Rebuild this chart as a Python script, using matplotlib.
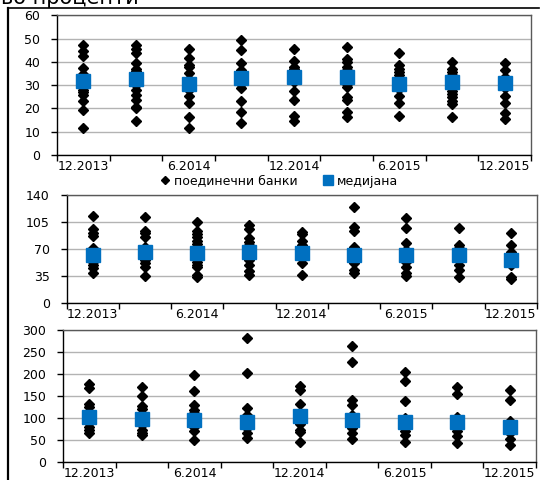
import matplotlib
matplotlib.use('Agg')
import matplotlib.pyplot as plt
from matplotlib.lines import Line2D
import numpy as np

periods = ['12.2013', '3.2014', '6.2014', '9.2014', '12.2014',
           '3.2015', '6.2015', '9.2015', '12.2015']

# top panel
p1_banks = [
    [47.3, 44.5, 42.4, 37.4, 34.9, 32.0, 30.0, 28.0, 27.0, 25.8, 23.4, 19.5, 11.4],
    [47.2, 45.7, 43.8, 39.5, 37.0, 36.0, 34.9, 32.5, 29.9, 28.0, 25.8, 23.7, 20.8, 20.2, 14.7],
    [45.7, 41.8, 38.5, 37.8, 35.2, 32.7, 29.9, 28.0, 25.5, 22.2, 16.4, 11.4],
    [49.3, 45.3, 39.7, 36.3, 34.9, 33.8, 32.0, 30.6, 28.8, 23.4, 18.3, 13.6],
    [45.7, 40.2, 38.0, 37.0, 35.6, 34.2, 32.0, 31.3, 27.4, 23.8, 16.9, 14.7],
    [46.3, 41.1, 40.0, 38.0, 36.3, 33.5, 30.6, 29.1, 25.1, 23.7, 18.6, 16.2],
    [44.0, 38.5, 37.0, 35.6, 34.2, 32.7, 29.9, 28.4, 25.5, 22.2, 16.9],
    [40.0, 37.0, 35.6, 34.2, 32.0, 27.7, 26.2, 24.8, 23.4, 21.9, 16.4],
    [39.5, 36.3, 33.5, 31.3, 28.8, 25.5, 22.2, 17.9, 15.4],
]
p1_median = [31.6, 32.5, 30.3, 32.9, 33.4, 33.7, 30.6, 31.2, 30.9]
p1_ticks = [0, 10, 20, 30, 40, 50, 60]

# middle panel
p2_banks = [
    [113.3, 95.6, 91.3, 87.0, 71.1, 64.6, 58.2, 53.9, 49.5, 45.2, 39.6],
    [112.0, 93.9, 91.3, 85.3, 73.2, 68.9, 62.5, 56.0, 52.6, 46.5, 35.3],
    [105.6, 93.9, 89.6, 85.3, 81.0, 76.7, 71.1, 66.8, 53.9, 49.5, 46.5, 36.6, 33.6],
    [101.2, 95.6, 84.0, 79.7, 75.4, 62.5, 56.0, 49.5, 42.2, 36.6],
    [92.6, 89.6, 81.0, 75.4, 71.1, 60.3, 51.7, 36.6],
    [125.0, 98.2, 93.9, 73.2, 66.8, 58.2, 52.6, 43.1, 39.6],
    [109.9, 96.9, 78.4, 68.9, 62.5, 53.9, 46.5, 38.8, 35.3],
    [96.9, 75.4, 71.1, 66.8, 56.0, 49.5, 43.1, 34.5],
    [90.5, 75.4, 66.8, 62.5, 49.5, 34.5, 31.5],
]
p2_median = [62.5, 66.3, 64.6, 66.3, 65.0, 62.5, 62.5, 62.5, 56.0]
p2_ticks = [0, 35, 70, 105, 140]

# bottom panel
p3_banks = [
    [176.9, 167.8, 131.5, 124.0, 101.3, 88.4, 78.6, 73.3, 65.8],
    [170.0, 148.9, 126.2, 121.0, 99.8, 84.7, 73.3, 65.8, 60.5],
    [198.0, 160.2, 128.5, 118.7, 111.1, 101.3, 92.2, 78.6, 69.5, 48.4],
    [281.2, 201.8, 122.4, 107.3, 101.3, 88.4, 77.1, 65.8, 54.4],
    [171.6, 164.0, 131.5, 107.3, 86.2, 73.3, 68.0, 45.4],
    [263.8, 226.0, 141.3, 130.0, 105.8, 98.3, 86.2, 77.1, 65.8, 50.6],
    [204.1, 182.9, 139.1, 99.8, 86.2, 71.0, 60.5, 45.4],
    [170.0, 154.2, 101.3, 96.0, 84.7, 71.0, 58.2, 41.6],
    [164.0, 141.3, 92.2, 84.7, 77.1, 65.8, 50.6, 37.8],
]
p3_median = [101.0, 98.0, 96.0, 90.0, 103.5, 94.5, 90.0, 90.0, 78.6]
p3_ticks = [0, 50, 100, 150, 200, 250, 300]

BLUE = '#0070c0'
W, H = 543, 480


def draw_panel(ax, banks, medians, yticks):
    for i, vals in enumerate(banks):
        ax.plot([i] * len(vals), vals, 'D', color='black', ms=4.8,
                ls='none', zorder=2)
    ax.plot(range(len(medians)), medians, 's', color=BLUE, ms=9.5,
            ls='none', zorder=3)

    ax.set_xlim(-0.5, len(periods) - 0.5)
    ax.set_ylim(yticks[0], yticks[-1])
    ax.set_yticks(yticks)
    ax.yaxis.grid(True, color='#b3b3b3', lw=1)
    ax.set_axisbelow(True)

    # ticks between categories, labels on every second category
    ax.set_xticks(np.arange(-0.5, len(periods), 1))
    ax.set_xticklabels([])
    ax.set_xticks(range(0, len(periods), 2), minor=True)
    ax.set_xticklabels(periods[::2], minor=True)
    ax.tick_params(axis='x', which='major', direction='out', length=4,
                   width=1)
    ax.tick_params(axis='x', which='minor', length=0, pad=3.5, labelsize=9)
    ax.tick_params(axis='y', direction='out', length=4, width=1, pad=8,
                   labelsize=9)

    for side in ['left', 'bottom']:
        ax.spines[side].set_color('black')
        ax.spines[side].set_linewidth(1)
    for side in ['top', 'right']:
        ax.spines[side].set_color('#595959')
        ax.spines[side].set_linewidth(1)


fig = plt.figure(figsize=(W / 100, H / 100), dpi=100)

ax1 = fig.add_axes([57 / W, 1 - 155 / H, 474 / W, 139.7 / H])
ax2 = fig.add_axes([66.5 / W, 1 - 303.3 / H, 470.5 / W, 108.3 / H])
ax3 = fig.add_axes([63 / W, 1 - 461.7 / H, 473 / W, 131.7 / H])

draw_panel(ax1, p1_banks, p1_median, p1_ticks)
draw_panel(ax2, p2_banks, p2_median, p2_ticks)
draw_panel(ax3, p3_banks, p3_median, p3_ticks)

handles = [
    Line2D([], [], marker='D', color='black', ls='none', ms=3.8),
    Line2D([], [], marker='s', color=BLUE, ls='none', ms=7),
]
fig.legend(handles, ['поединечни банки', 'медијана'], loc='center',
           bbox_to_anchor=(279 / W, 1 - 181 / H), ncol=2, frameon=False,
           fontsize=9, handlelength=0.8, handletextpad=0.3,
           columnspacing=2.0, borderpad=0)

# frame around the figure block
fig.add_artist(Line2D([8 / W, 8 / W], [0, 1 - 8 / H], color='black', lw=1.6,
                      transform=fig.transFigure))
fig.add_artist(Line2D([8 / W, 539 / W], [1 - 8 / H, 1 - 8 / H],
                      color='black', lw=1.2, transform=fig.transFigure))

fig.text(1 / W, 1 - 4 / H, 'во проценти', fontsize=15, va='baseline',
         ha='left')

fig.savefig('out.png', dpi=100)
